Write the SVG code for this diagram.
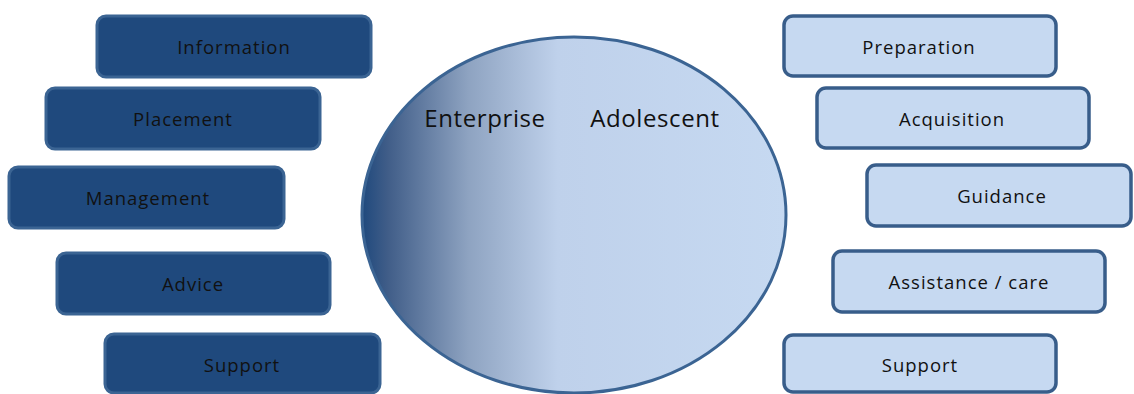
<svg xmlns="http://www.w3.org/2000/svg" width="1134" height="394" viewBox="0 0 1134 394">
  <style>
    .dark rect { fill: #1f497d; stroke: #3b6493; stroke-width: 3; }
    .light rect { fill: #c6d9f1; stroke: #385d8a; stroke-width: 3.5; }
    text { font-family: "Open Sans", "Noto Sans", "Liberation Sans", sans-serif; fill: #111; text-anchor: middle; }
    .lbl { font-size: 18.5px; letter-spacing: 1px; }
    .big { font-size: 24px; letter-spacing: 0.6px; }
  </style>
  <defs>
    <linearGradient id="core" x1="362" y1="0" x2="787" y2="0" gradientUnits="userSpaceOnUse">
      <stop offset="0" stop-color="#1f497d"/>
      <stop offset="0.06" stop-color="#405d88"/>
      <stop offset="0.25" stop-color="#8ea3c1"/>
      <stop offset="0.46" stop-color="#bfd1eb"/>
      <stop offset="1" stop-color="#c6d9f1"/>
    </linearGradient>
  </defs>
  <rect width="1134" height="394" fill="#ffffff"/>

  <g id="core-circle">
    <ellipse cx="574" cy="215" rx="212" ry="178" fill="url(#core)" stroke="#3b6493" stroke-width="3"/>
    <text class="big" x="485" y="127">Enterprise</text>
    <text class="big" x="655" y="127">Adolescent</text>
  </g>

  <g id="connectors"></g>

  <!-- enterprise side -->
  <g id="information" class="dark">
    <rect x="97" y="16" width="274" height="61" rx="9"/>
    <text class="lbl" x="234" y="54">Information</text>
  </g>
  <g id="placement" class="dark">
    <rect x="46" y="88" width="274" height="61" rx="9"/>
    <text class="lbl" x="183" y="126">Placement</text>
  </g>
  <g id="management" class="dark">
    <rect x="9" y="167" width="275" height="61" rx="9"/>
    <text class="lbl" x="148" y="205">Management</text>
  </g>
  <g id="advice" class="dark">
    <rect x="57" y="253" width="273" height="61" rx="9"/>
    <text class="lbl" x="193" y="291">Advice</text>
  </g>
  <g id="support-left" class="dark">
    <rect x="105" y="334" width="275" height="59" rx="9"/>
    <text class="lbl" x="242" y="372">Support</text>
  </g>

  <!-- adolescent side -->
  <g id="preparation" class="light">
    <rect x="784" y="16" width="272" height="60" rx="9"/>
    <text class="lbl" x="919" y="54">Preparation</text>
  </g>
  <g id="acquisition" class="light">
    <rect x="817" y="88" width="272" height="60" rx="9"/>
    <text class="lbl" x="952" y="126">Acquisition</text>
  </g>
  <g id="guidance" class="light">
    <rect x="867" y="165" width="264" height="61" rx="9"/>
    <text class="lbl" x="1002" y="203">Guidance</text>
  </g>
  <g id="assistance" class="light">
    <rect x="833" y="251" width="272" height="61" rx="9"/>
    <text class="lbl" x="969" y="289">Assistance / care</text>
  </g>
  <g id="support-right" class="light">
    <rect x="784" y="335" width="272" height="57" rx="9"/>
    <text class="lbl" x="920" y="372">Support</text>
  </g>
</svg>
